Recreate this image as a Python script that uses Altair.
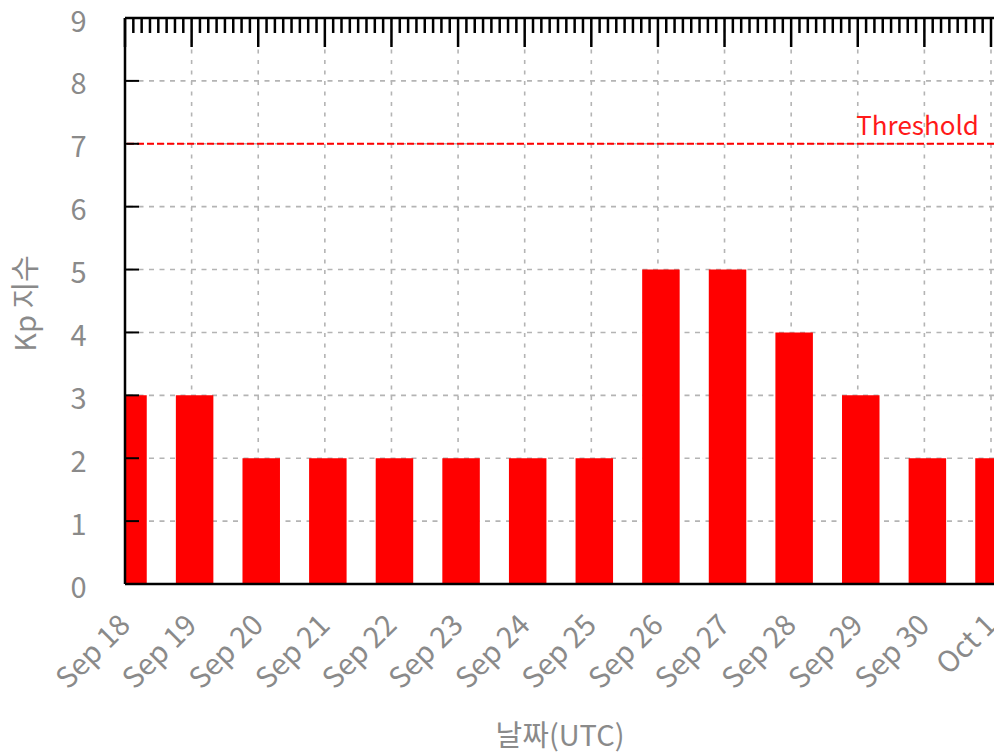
import altair as alt
import pandas as pd

# ---- data ----
dates = ["2024-09-18", "2024-09-19", "2024-09-20", "2024-09-21", "2024-09-22",
         "2024-09-23", "2024-09-24", "2024-09-25", "2024-09-26", "2024-09-27",
         "2024-09-28", "2024-09-29", "2024-09-30", "2024-10-01"]
kp_values = [3, 3, 2, 2, 2, 2, 2, 2, 5, 5, 4, 3, 2, 2]
y_tick_values = [0, 1, 2, 3, 4, 5, 6, 7, 8, 9]
threshold_value = 7
threshold_label = "Threshold"
x_title = "날짜(UTC)"
y_title = "Kp 지수"

# ---- style ----
W, H = 869, 566
FONT = "Noto Sans CJK KR"
GRAY = "#8a8a8a"
GRID = "#b4b4b4"


def ms(ts):
    return int(ts.timestamp() * 1000)


stamps = [pd.Timestamp(d, tz="UTC") for d in dates]
day_ms = [ms(t) for t in stamps]
x_start = stamps[0]
x_end = stamps[-1] + pd.Timedelta(minutes=65)
minor = [ms(t) for t in pd.date_range(x_start, x_end, freq="3h") if t.hour != 0]

df = pd.DataFrame({"date": day_ms, "kp": kp_values})
df_minor = pd.DataFrame({"date": minor})
df_y = pd.DataFrame({"v": y_tick_values})
df_ygrid = pd.DataFrame({"v": y_tick_values[1:-1]})
df_thr = pd.DataFrame({"t": [threshold_value], "label": [threshold_label]})
df_hb = pd.DataFrame({"date": [ms(x_start)] * 2, "b": [ms(x_end)] * 2,
                      "v": [y_tick_values[0], y_tick_values[-1]]})
df_left = pd.DataFrame({"date": [ms(x_start)]})

xscale = alt.Scale(type="utc", domain=[ms(x_start), ms(x_end)], padding=0)
yscale = alt.Scale(domain=[0, 9], nice=False, zero=True, padding=0)

x_axis = alt.Axis(
    values=day_ms, labelExpr="utcFormat(datum.value, '%b %-d')",
    labelAngle=315, labelAlign="right", labelBaseline="middle",
    labelPadding=36, labelFontSize=29, labelFont=FONT, labelColor=GRAY,
    labelFlush=False, labelOverlap=False,
    ticks=False, grid=False, domain=False,
    titleFont=FONT, titleFontSize=29, titleColor=GRAY, titleFontWeight="normal",
    titleBaseline="alphabetic", titleY=161,
)
y_axis = alt.Axis(
    values=y_tick_values, labelFontSize=29, labelFont=FONT, labelColor=GRAY,
    labelPadding=39, labelOffset=4, ticks=False, grid=False, domain=False,
    titleFont=FONT, titleFontSize=29, titleColor=GRAY, titleFontWeight="normal",
    titleAngle=270, titleBaseline="middle", titleAlign="center",
    titleX=-99, titleY=285,
)


def X(field):
    return alt.X(field, scale=xscale, axis=x_axis, title=x_title)


def Y(field):
    return alt.Y(field, scale=yscale, axis=y_axis, title=y_title)


vgrid = alt.Chart(df).mark_rule(color=GRID, strokeDash=[4, 6.5], strokeWidth=1.6).encode(
    x=X("date:T")
)
hgrid = alt.Chart(df_ygrid).mark_rule(color=GRID, strokeDash=[5, 5.5], strokeWidth=1.6).encode(
    y=Y("v:Q")
)
bars = alt.Chart(df).mark_bar(color="#ff0000", size=37.5, xOffset=3, clip=True).encode(
    x=X("date:T"),
    y=Y("kp:Q"),
)
thr_rule = alt.Chart(df_thr).mark_rule(color="#ff0000", strokeDash=[7, 3], strokeWidth=2).encode(
    y=Y("t:Q")
)
thr_text = alt.Chart(df_thr).mark_text(
    align="right", baseline="alphabetic", dy=-9, color="#ff1a1a",
    fontSize=26, font=FONT,
).encode(
    y=Y("t:Q"),
    x=alt.value(W - 15),
    text="label:N",
)
hborders = alt.Chart(df_hb).mark_rule(color="black", strokeWidth=2.5).encode(
    x=X("date:T"),
    x2=alt.X2("b"),
    y=Y("v:Q"),
)
left_border = alt.Chart(df_left).mark_rule(color="black", strokeWidth=2.5).encode(
    x=X("date:T"),
)
major_ticks = alt.Chart(df).mark_rule(color="black", strokeWidth=2.5).encode(
    x=X("date:T"),
    y=alt.value(0), y2=alt.value(29),
)
minor_ticks = alt.Chart(df_minor).mark_rule(color="black", strokeWidth=2.5).encode(
    x=X("date:T"),
    y=alt.value(0), y2=alt.value(15),
)
left_ticks = alt.Chart(df_y).mark_rule(color="black", strokeWidth=2).encode(
    y=Y("v:Q"),
    x=alt.value(0), x2=alt.value(14),
)

chart = alt.layer(
    vgrid, hgrid, bars, thr_rule, thr_text, hborders, left_border,
    major_ticks, minor_ticks, left_ticks
).properties(
    width=W, height=H,
    autosize=alt.AutoSizeParams(type="none"),
    padding={"left": 117, "top": 10, "right": 0, "bottom": 168},
    background="white",
).configure_view(strokeWidth=0)

chart.save("out.html", embed_options={"renderer": "svg", "actions": False})
